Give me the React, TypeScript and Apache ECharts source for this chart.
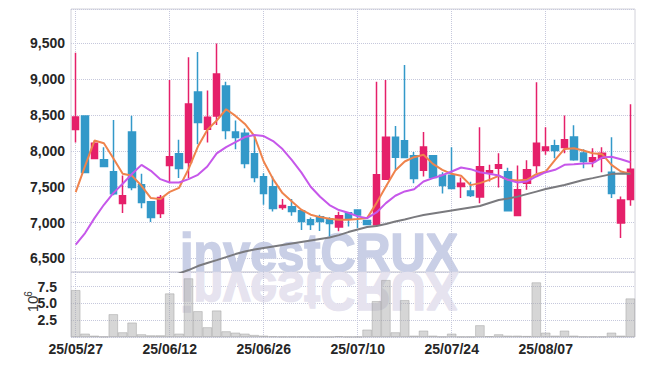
import React, { useEffect, useRef } from 'react';
import * as echarts from 'echarts';

const dates = [
  '25/05/27', '25/05/28', '25/05/29', '25/05/30', '25/06/02', '25/06/04', '25/06/05', '25/06/09', '25/06/10', '25/06/11',
  '25/06/12', '25/06/13', '25/06/16', '25/06/17', '25/06/18', '25/06/19', '25/06/20', '25/06/23', '25/06/24', '25/06/25',
  '25/06/26', '25/06/27', '25/06/30', '25/07/01', '25/07/02', '25/07/03', '25/07/04', '25/07/07', '25/07/08', '25/07/09',
  '25/07/10', '25/07/11', '25/07/14', '25/07/15', '25/07/16', '25/07/17', '25/07/18', '25/07/21', '25/07/22', '25/07/23',
  '25/07/24', '25/07/25', '25/07/28', '25/07/29', '25/07/30', '25/07/31', '25/08/01', '25/08/04', '25/08/05', '25/08/06',
  '25/08/07', '25/08/08', '25/08/11', '25/08/12', '25/08/13', '25/08/14', '25/08/18', '25/08/19', '25/08/20', '25/08/21',
];

const tickLabels = ['25/05/27', '25/06/12', '25/06/26', '25/07/10', '25/07/24', '25/08/07'];

const openP = [
  8297, 8488, 7894, 7875, 7708, 7267, 8265, 7527, 7290, 7127,
  7796, 7959, 7838, 8822, 8302, 8488, 8906, 8265, 8246, 7959,
  7638, 7499, 7211, 7220, 7165, 7039, 7081, 7053, 6937, 7137,
  7174, 7030, 6970, 7606, 8191, 8140, 7931, 7731, 7931, 7661,
  7661, 7504, 7439, 7355, 7694, 7759, 7708, 7100, 7550, 7796,
  8005, 8070, 8047, 8195, 7972, 7852, 7898, 7703, 6993, 7322,
];
const closeP = [
  8474, 7699, 8107, 7782, 7401, 7374, 7490, 7281, 7072, 7350,
  7917, 7754, 8655, 8395, 8469, 9073, 8284, 8186, 7824, 7629,
  7406, 7197, 7239, 7155, 7016, 6974, 7016, 6988, 7095, 7053,
  7104, 6974, 7666, 8191, 7912, 7907, 7615, 8056, 7629, 7517,
  7476, 7550, 7378, 7777, 7722, 7805, 7165, 7457, 7736, 8107,
  8056, 8005, 8154, 7875, 7852, 7903, 7968, 7406, 7313, 7745,
];
const lowP = [
  8116, 7690, 7890, 7780, 7380, 7132, 7450, 7200, 7007, 7062,
  7560, 7620, 7620, 8093, 8116, 8362, 8163, 8024, 7759, 7564,
  7248, 7155, 7179, 7095, 6895, 6895, 6881, 6807, 6877, 6946,
  6923, 6970, 6946, 7600, 7736, 7900, 7550, 7643, 7620, 7406,
  7466, 7341, 7355, 7271, 7573, 7490, 7160, 7095, 7457, 7689,
  7945, 7898, 7968, 7861, 7759, 7773, 7703, 7341, 6784, 7234,
];
const highP = [
  9370, 8490, 8120, 8050, 8430, 7657, 8490, 7680, 7290, 7383,
  8990, 8155, 9305, 9380, 8841, 9500, 8966, 8423, 8311, 8209,
  7689, 7643, 7327, 7327, 7165, 7072, 7109, 7075, 7151, 7140,
  7174, 7035, 8966, 8989, 8349, 9198, 7986, 8265, 7940, 7703,
  8051, 7629, 7569, 8330, 7805, 7968, 7763, 7796, 7870, 8957,
  8330, 8154, 8493, 8358, 8024, 8037, 8051, 8191, 7364, 8650,
];

const ma5 = [
  7425, 7791, 8144, 8107, 7898, 7680, 7652, 7513, 7341, 7327,
  7429, 7485, 7745, 8061, 8293, 8423, 8581, 8488, 8376, 8209,
  7852, 7606, 7411, 7295, 7179, 7109, 7076, 7053, 7039, 7039,
  7048, 7062, 7271, 7504, 7727, 7852, 7912, 7945, 7819, 7736,
  7680, 7652, 7522, 7550, 7596, 7652, 7596, 7587, 7596, 7675,
  7712, 7875, 8028, 8037, 8005, 7968, 7954, 7805, 7712, 7680,
];
const ma10 = [
  6691, 6854, 7062, 7248, 7411, 7541, 7680, 7805, 7722, 7606,
  7559, 7559, 7606, 7666, 7782, 7965, 8053, 8123, 8193, 8221,
  8207, 8137, 8025, 7872, 7700, 7499, 7360, 7244, 7174, 7137,
  7086, 7062, 7141, 7271, 7374, 7434, 7466, 7573, 7620, 7661,
  7712, 7768, 7745, 7703, 7680, 7657, 7596, 7559, 7573, 7643,
  7703, 7736, 7805, 7814, 7824, 7828, 7907, 7917, 7884, 7842,
];
const maLong = [
  null, null, null, null, null, null, null, null, null, null,
  6240, 6290, 6337, 6393, 6435, 6476, 6518, 6560, 6595, 6623,
  6644, 6665, 6686, 6707, 6728, 6749, 6770, 6791, 6825, 6867,
  6902, 6937, 6951, 6979, 7014, 7042, 7076, 7104, 7125, 7146,
  7167, 7188, 7209, 7230, 7272, 7314, 7335, 7362, 7397, 7432,
  7467, 7495, 7523, 7558, 7593, 7620, 7648, 7676, 7683, 7676,
];

// volume in millions of shares
const volume = [
  7.0, 0.5, 0.2, 0.06, 3.4, 0.7, 2.15, 0.4, 0.25, 0.25,
  6.5, 0.5, 8.75, 3.85, 1.45, 3.95, 0.85, 0.65, 0.5, 0.3,
  0.2, 0.1, 0.06, 0.06, 0.06, 0.05, 0.03, 0.03, 0.12, 0.04,
  0.05, 1.1, 5.35, 8.5, 0.7, 5.5, 0.2, 0.95, 0.2, 0.06,
  0.5, 0.05, 0.05, 1.75, 0.12, 0.4, 0.2, 0.2, 0.15, 8.15,
  0.65, 0.2, 0.95, 0.2, 0.06, 0.06, 0.06, 0.65, 0.2, 5.75,
];

const UP = '#e5206a';
const DOWN = '#3399c9';
const GRID_DOT = '#c6c8dc';
const labelFont = {
  fontFamily: '"Liberation Sans", Arial, sans-serif',
  fontWeight: 'bold' as const,
  color: '#262626',
};

const vLines = {
  silent: true,
  z: 1,
  symbol: ['none', 'none'],
  label: { show: false },
  emphasis: { disabled: true },
  itemStyle: { color: GRID_DOT },
  lineStyle: { type: 'dotted' as const, color: GRID_DOT, width: 1, opacity: 1 },
  data: tickLabels.map((d) => ({ xAxis: d, lineStyle: { color: GRID_DOT } })),
};

const wmStyle = {
  text: 'investCRUX',
  fontFamily: '"Liberation Sans", Arial, sans-serif',
  fontWeight: 'bold',
  fontSize: 54,
  textAlign: 'left',
  textVerticalAlign: 'middle',
  lineWidth: 1.6,
};

export default function App() {
  const ref = useRef<HTMLDivElement>(null);
  useEffect(() => {
    document.body.style.margin = '0';
    const chart = echarts.init(ref.current!, null, { renderer: 'svg' });
    const candleData = dates.map((_, i) => [openP[i], closeP[i], lowP[i], highP[i]]);
    chart.setOption({
      animation: false,
      grid: [
        { left: 71, right: 10, top: 9, height: 263, show: true, borderColor: '#d2d2da', borderWidth: 1, backgroundColor: 'transparent' },
        { left: 71, right: 10, top: 272, height: 65, show: true, borderColor: '#d2d2da', borderWidth: 1, backgroundColor: 'transparent' },
      ],
      xAxis: [
        {
          type: 'category', gridIndex: 0, data: dates, boundaryGap: true,
          axisLine: { show: false }, axisTick: { show: false }, axisLabel: { show: false }, splitLine: { show: false },
        },
        {
          type: 'category', gridIndex: 1, data: dates, boundaryGap: true,
          axisLine: { show: false }, axisTick: { show: false }, splitLine: { show: false },
          axisLabel: {
            show: true, margin: 5, fontSize: 14, ...labelFont,
            interval: (_i: number, v: string) => tickLabels.includes(v),
          },
        },
      ],
      yAxis: [
        {
          type: 'value', gridIndex: 0, min: 6310, max: 9980, splitNumber: 8, scale: true,
          axisLine: { show: false }, axisTick: { show: false },
          axisLabel: {
            showMinLabel: false, showMaxLabel: false, margin: 6, fontSize: 14, ...labelFont,
            formatter: (v: number) => v.toLocaleString('en-US'),
          },
          splitLine: { show: true, lineStyle: { type: 'dotted', color: GRID_DOT } },
        },
        {
          type: 'value', gridIndex: 1, min: 0, max: 9.7, interval: 2.5,
          axisLine: { show: false }, axisTick: { show: false },
          axisLabel: {
            showMinLabel: false, showMaxLabel: false, margin: 14, fontSize: 14, ...labelFont,
            formatter: (v: number) => v.toFixed(1),
          },
          splitLine: { show: true, lineStyle: { type: 'dotted', color: GRID_DOT } },
        },
      ],
      graphic: [
        {
          type: 'text', x: 180, y: 252.5, scaleX: 0.9, z: 1, silent: true,
          style: { ...wmStyle, fill: '#c9cfe6', stroke: '#c9cfe6' },
        },
        {
          type: 'text', x: 180, y: 291.5, scaleX: 0.9, scaleY: -1, z: 1, silent: true,
          style: { ...wmStyle, fill: '#e6e3ef', stroke: '#e6e3ef' },
        },
        {
          type: 'text', x: 32, y: 304, rotation: Math.PI / 2, silent: true,
          style: {
            text: '10', fontFamily: '"Liberation Sans", sans-serif', fontSize: 15, fill: '#333',
            textAlign: 'center', textVerticalAlign: 'middle',
          },
        },
        {
          type: 'text', x: 28.5, y: 294, rotation: Math.PI / 2, silent: true,
          style: {
            text: '6', fontFamily: '"Liberation Sans", sans-serif', fontSize: 10, fill: '#333',
            textAlign: 'center', textVerticalAlign: 'middle',
          },
        },
      ],
      series: [
        {
          type: 'candlestick', name: 'price', xAxisIndex: 0, yAxisIndex: 0, data: candleData,
          barWidth: 7,
          itemStyle: { color: UP, color0: DOWN, borderColor: UP, borderColor0: DOWN, borderWidth: 1.5 },
          markLine: vLines,
        },
        {
          type: 'line', name: 'MA5', xAxisIndex: 0, yAxisIndex: 0, data: ma5, symbol: 'none', silent: true,
          lineStyle: { width: 2, color: '#ef834c' }, itemStyle: { color: '#ef834c' },
        },
        {
          type: 'line', name: 'MA10', xAxisIndex: 0, yAxisIndex: 0, data: ma10, symbol: 'none', silent: true,
          lineStyle: { width: 2, color: '#c657ea' }, itemStyle: { color: '#c657ea' },
        },
        {
          type: 'line', name: 'MA60', xAxisIndex: 0, yAxisIndex: 0, data: maLong, symbol: 'none', silent: true,
          lineStyle: { width: 2, color: '#7a7a7e' }, itemStyle: { color: '#7a7a7e' },
        },
        {
          type: 'bar', name: 'volume', xAxisIndex: 1, yAxisIndex: 1, data: volume, barCategoryGap: '0%',
          itemStyle: { color: 'rgba(165,165,165,0.45)', borderColor: 'rgba(150,150,150,0.6)', borderWidth: 0.7 },
          markLine: vLines,
        },
      ],
    });
    return () => chart.dispose();
  }, []);
  return <div ref={ref} style={{ width: 645, height: 366 }} />;
}
